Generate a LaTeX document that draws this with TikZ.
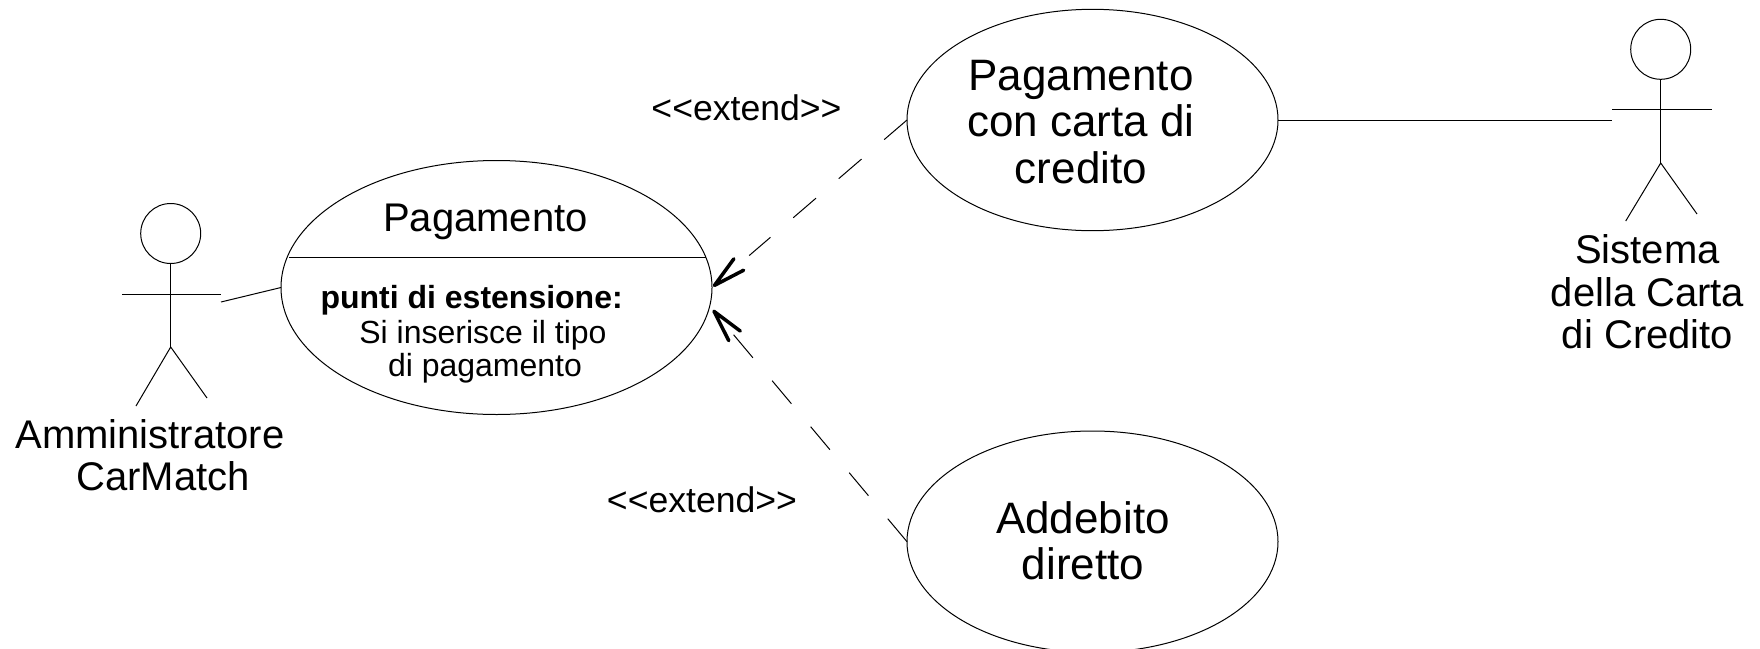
\documentclass[tikz,border=0pt]{standalone}
\usepackage{fontspec}
\setmainfont{Liberation Sans}
\usepackage{tikz}
\usetikzlibrary{arrows.meta,shapes.geometric}

\begin{document}
\begin{tikzpicture}[x=1pt, y=-1pt, line width=1pt]
\tikzstyle{usecase} = [draw, ellipse, inner sep=0pt, outer sep=0pt]
\tikzstyle{head} = [draw, circle, minimum size=60pt, inner sep=0pt, outer sep=0pt]
\tikzstyle{biglabel} = [align=center, inner sep=0pt, font=\fontsize{44}{46.5}\selectfont]
\tikzstyle{midlabel} = [align=center, inner sep=0pt, font=\fontsize{40}{42.5}\selectfont]
\tikzstyle{smalllabel} = [anchor=base, inner sep=0pt, font=\fontsize{32}{34}\selectfont]
\tikzstyle{stereo} = [anchor=base, inner sep=0pt, font=\fontsize{35.6}{38}\selectfont]
\tikzstyle{barb} = [-{Straight Barb[length=32pt, width=15pt, line width=3.5pt, round]}]
\path[use as bounding box, clip] (0,0) rectangle (1760,648);
\node[usecase, minimum width=431pt, minimum height=254pt] (pay) at (496.5,287.5) {};
\node[usecase, minimum width=371pt, minimum height=221.4pt] (card) at (1092.5,120) {};
\node[usecase, minimum width=371pt, minimum height=221.4pt] (debit) at (1092.5,541.7) {};
\coordinate (payw) at (289,257);
\coordinate (paye) at (706,257);
\draw (payw) -- (paye);
\node[midlabel, anchor=base] (paytitle) at (485.5,231) {Pagamento};
\node[smalllabel, anchor=base west, font=\fontsize{32}{34}\selectfont\bfseries] (payext) at (320,308) {punti di estensione:};
\node[smalllabel] (paywhat) at (483,343) {Si inserisce il tipo};
\node[smalllabel] (paykind) at (485,376) {di pagamento};
\node[biglabel] (cardtext) at (1081,122) {Pagamento\\con carta di\\credito};
\node[biglabel] (debittext) at (1083,541) {Addebito\\diretto};
\node[head] (lhead) at (170.7,233.5) {};
\coordinate (lhip) at (170.7,347);
\coordinate (larma) at (122,294);
\coordinate (larmb) at (221,294);
\coordinate (lshoulder) at (221,302);
\coordinate (lfoota) at (136,406);
\coordinate (lfootb) at (207,398);
\draw (lhead) -- (lhip);
\draw (larma) -- (larmb);
\draw (lfoota) -- (lhip) -- (lfootb);
\draw (lshoulder) -- (pay.west);
\node[midlabel, align=left, anchor=base west] (ltext) at (15,490.5) {Amministratore\\\hspace*{61pt}CarMatch};
\node[head] (rhead) at (1660.7,49.3) {};
\coordinate (rhip) at (1660.7,163);
\coordinate (rarma) at (1612,109.7);
\coordinate (rarmb) at (1711.7,109.7);
\coordinate (rhand) at (1612,120);
\coordinate (rfoota) at (1625.7,221);
\coordinate (rfootb) at (1697,214);
\draw (rhead) -- (rhip);
\draw (rarma) -- (rarmb);
\draw (rfoota) -- (rhip) -- (rfootb);
\draw (card.east) -- (rhand);
\node[midlabel] (rtext) at (1647.5,292) {Sistema\\della Carta\\di Credito};
\draw[barb, shorten >=1.5pt, dash pattern=on 30pt off 30pt on 30pt off 30pt on 30pt off 30pt on 28pt off 100pt] (card.west) -- (pay.east);
\draw[barb, shorten >=5pt, dash pattern=on 30pt off 30pt on 30pt off 30pt on 30pt off 30pt on 30pt off 30pt on 30pt off 100pt] (debit.west) -- (pay.-5);
\node[stereo] (extenda) at (746.5,120) {<{}<extend>{}>};
\node[stereo] (extendb) at (702,512) {<{}<extend>{}>};
\end{tikzpicture}
\end{document}
